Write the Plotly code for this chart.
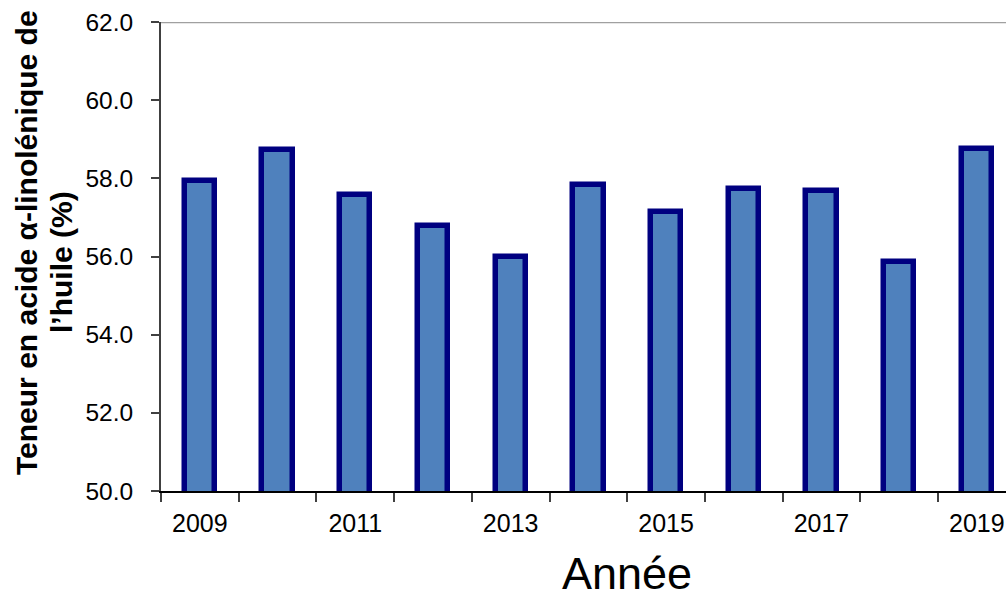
import plotly.graph_objects as go

years = [2009, 2010, 2011, 2012, 2013, 2014, 2015, 2016, 2017, 2018, 2019]
values = [57.94, 58.73, 57.57, 56.77, 56.00, 57.83, 57.15, 57.72, 57.68, 55.86, 58.75]
y_ticks = [50, 52, 54, 56, 58, 60, 62]
x_label_years = [2009, 2011, 2013, 2015, 2017, 2019]
y_title_lines = ["Teneur en acide α-linolénique de", "l’huile (%)"]
x_title = "Année"

fig = go.Figure()
fig.add_trace(go.Bar(
    x=years, y=values, width=0.39,
    marker=dict(color="#4F81BD", line=dict(color="#000080", width=5.5)),
))

fig.update_layout(
    width=1006, height=600,
    margin=dict(l=161, r=0, t=22, b=109),
    paper_bgcolor="white", plot_bgcolor="white",
    showlegend=False,
    font=dict(family="Liberation Sans, Arial, sans-serif", color="black"),
    bargap=0,
)
fig.update_xaxes(
    range=[2008.5, 2019.375],
    tickmode="array", tickvals=x_label_years, ticktext=[str(v) for v in x_label_years],
    ticks="", tickfont=dict(size=25), ticklabelstandoff=9,
    showline=True, linecolor="black", linewidth=2,
    showgrid=False, zeroline=False,
    minor=dict(tickmode="array", tickvals=[y - 0.5 for y in years] + [years[-1] + 0.5],
               ticks="outside", ticklen=9, tickcolor="#404040", tickwidth=1.5, showgrid=False),
)
fig.update_yaxes(
    range=[50, 62],
    tickmode="array", tickvals=y_ticks, ticktext=[f"{v:.1f}" for v in y_ticks],
    ticks="outside", ticklen=8, tickcolor="#404040", tickwidth=1.5,
    tickfont=dict(size=24.5), ticklabelstandoff=13,
    showline=True, linecolor="#404040", linewidth=2,
    showgrid=False, zeroline=False,
)
# top border of plot area
fig.add_shape(type="line", xref="paper", yref="y", x0=0, x1=1, y0=62, y1=62,
              line=dict(color="#A0A0A0", width=2.5))

fig.add_annotation(text=f"<b>{y_title_lines[0]}</b>", xref="paper", yref="paper",
                   x=-161/845 + 26/845, y=(491-243)/469, textangle=-90, showarrow=False,
                   font=dict(size=30, color="black"), xanchor="center", yanchor="middle")
fig.add_annotation(text=f"<b>{y_title_lines[1]}</b>", xref="paper", yref="paper",
                   x=-161/845 + 61/845, y=(491-262)/469, textangle=-90, showarrow=False,
                   font=dict(size=30, color="black"), xanchor="center", yanchor="middle")
fig.add_annotation(text=x_title, xref="paper", yref="paper",
                   x=(627-161)/845, y=-(573-491)/469, showarrow=False,
                   font=dict(size=45, color="black"), xanchor="center", yanchor="middle")

fig.write_html("out.html")
